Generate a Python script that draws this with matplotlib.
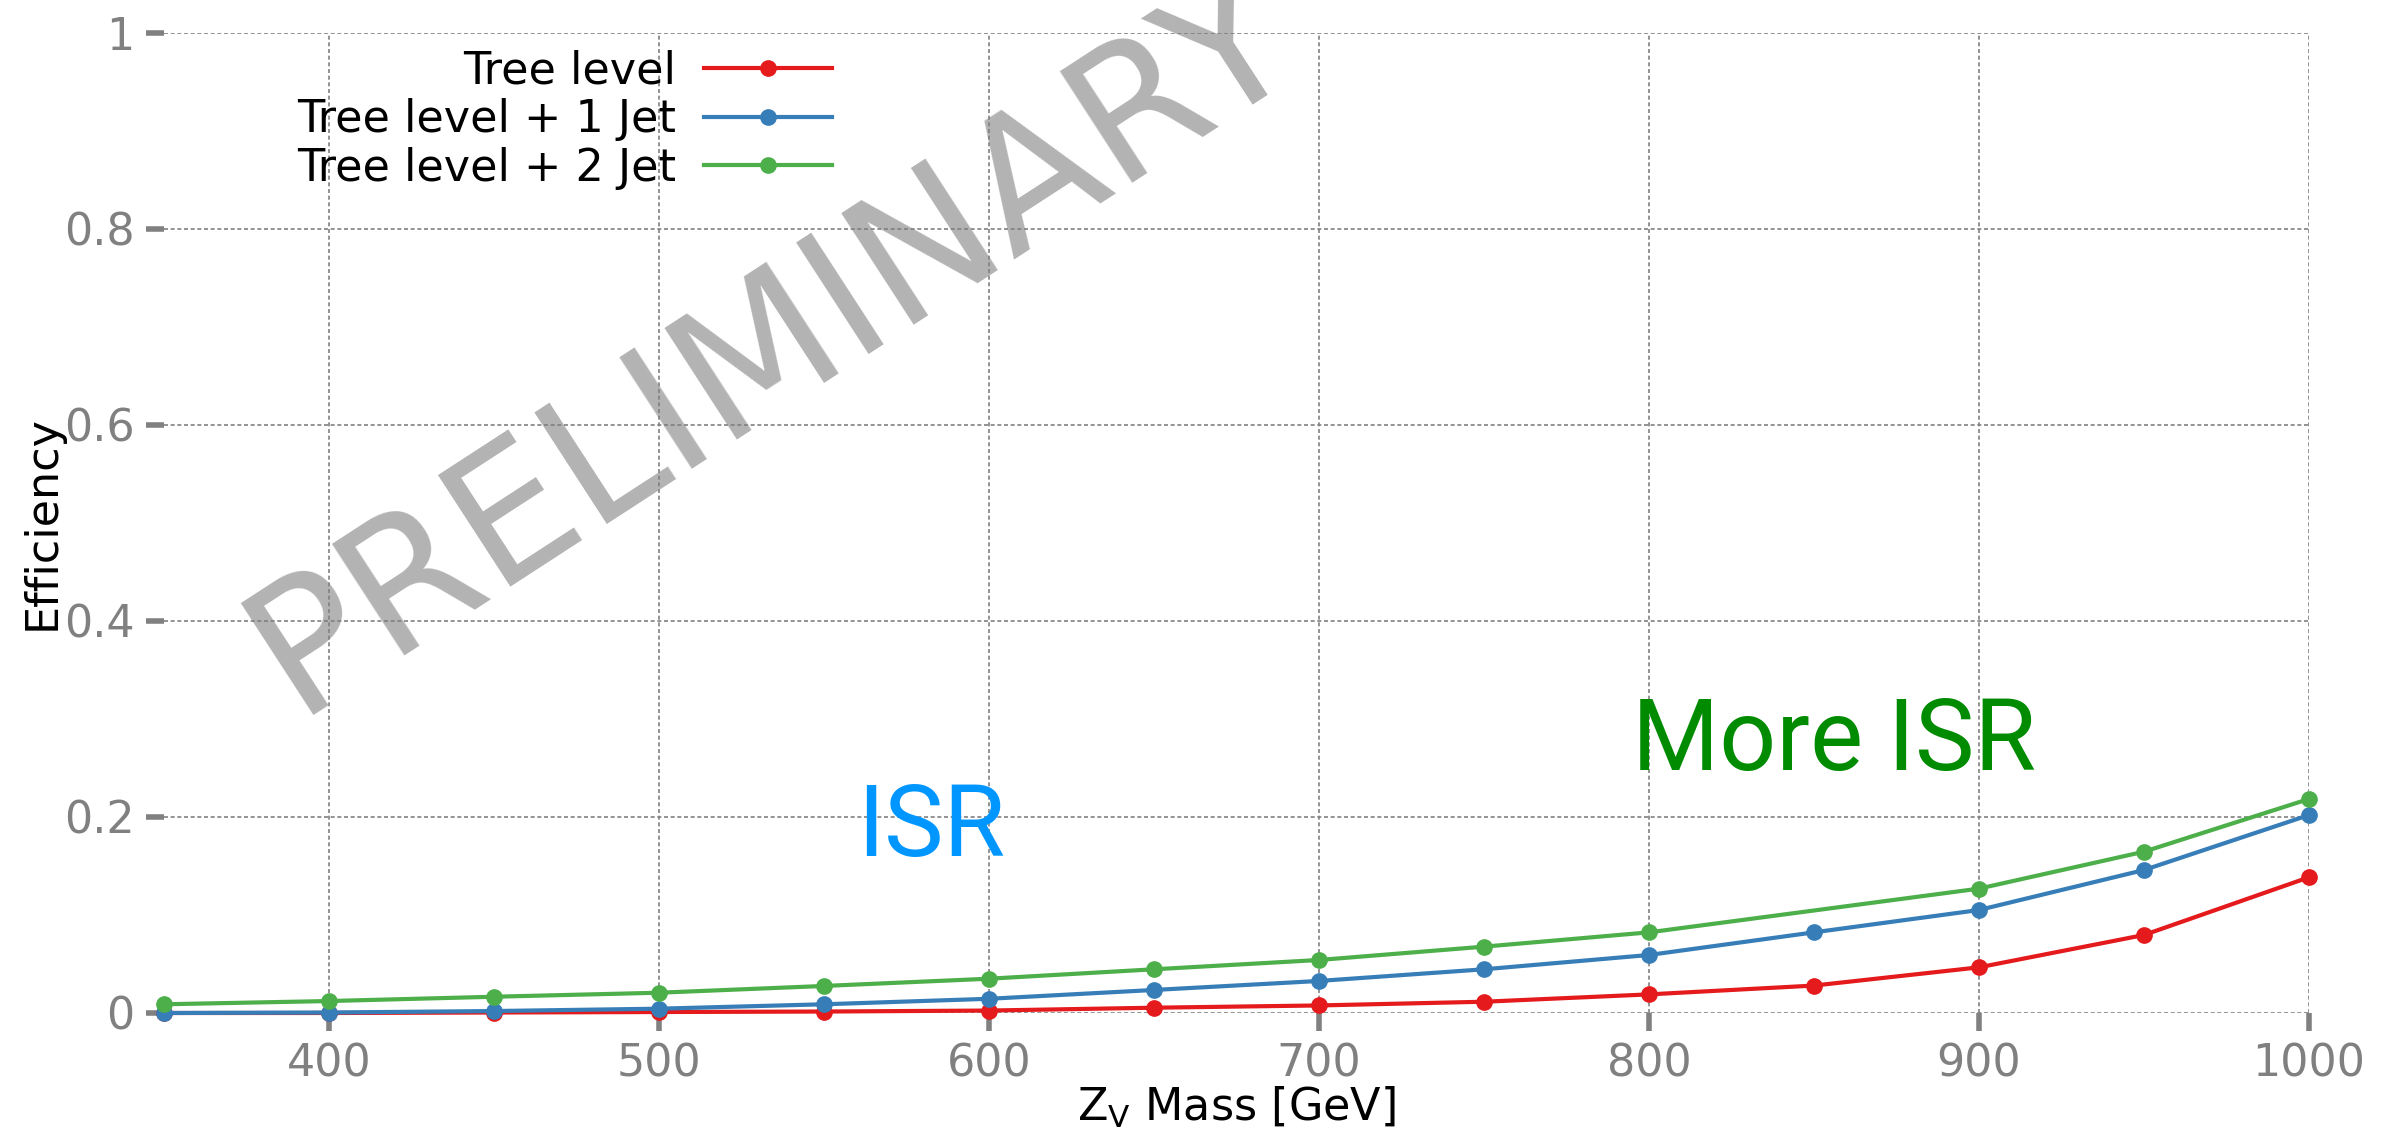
import matplotlib
matplotlib.use("Agg")
import matplotlib.pyplot as plt

plt.rcParams['font.family'] = ['DejaVu Sans']
plt.rcParams['mathtext.default'] = 'regular'

# ---- data ----
mass = [350, 400, 450, 500, 550, 600, 650, 700, 750, 800, 850, 900, 950, 1000]
eff_tree = [0.0, 0.0, 0.0005, 0.001, 0.0015, 0.0025, 0.0054, 0.0077, 0.0115,
            0.019, 0.028, 0.0466, 0.0796, 0.1385]
eff_1jet = [0.0, 0.0005, 0.002, 0.0044, 0.0089, 0.0145, 0.0235, 0.0327, 0.0446,
            0.0592, 0.0823, 0.1051, 0.1459, 0.202]
mass_2jet = [350, 400, 450, 500, 550, 600, 650, 700, 750, 800, 900, 950, 1000]
eff_2jet = [0.0089, 0.0122, 0.0166, 0.0207, 0.0276, 0.035, 0.0446, 0.0541, 0.0677,
            0.0823, 0.1269, 0.1646, 0.2184]
labels = ["Tree level", "Tree level + 1 Jet", "Tree level + 2 Jet"]
colors = ["#e41a1c", "#377eb8", "#4daf4a"]
xticks = [400, 500, 600, 700, 800, 900, 1000]
yticks = [0, 0.2, 0.4, 0.6, 0.8, 1.0]
ytick_labels = ["0", "0.2", "0.4", "0.6", "0.8", "1"]

W, H = 2386, 1128
fig = plt.figure(figsize=(W / 100, H / 100), dpi=100)
ax = fig.add_axes([164 / W, 1 - 1013 / H, (2309 - 164) / W, (1013 - 33) / H])
ax.patch.set_facecolor('none')

series = [(mass, eff_tree), (mass, eff_1jet), (mass_2jet, eff_2jet)]
for (xs, ys), lab, c in zip(series, labels, colors):
    ax.plot(xs, ys, '-o', color=c, lw=3, ms=11, label=lab, clip_on=False, zorder=3)

ax.set_xlim(350, 1000)
ax.set_ylim(0, 1)
ax.set_xticks(xticks)
ax.set_xticklabels([str(v) for v in xticks])
ax.set_yticks(yticks)
ax.set_yticklabels(ytick_labels)

for s in ax.spines.values():
    s.set_visible(False)

ax.tick_params(axis='both', direction='out', length=13, width=4, color='#808080',
               labelcolor='#808080', labelsize=32, pad=8)
ax.grid(True, color='#808080', lw=1.2, linestyle=(0, (2.4, 1.6)))

ax.set_xlabel("$Z_V$ Mass [GeV]", fontsize=32, labelpad=0)
ax.set_ylabel("Efficiency", fontsize=32, labelpad=0)

leg = ax.legend(loc='upper left', bbox_to_anchor=(279 / W, 1 - 32 / H),
                bbox_transform=fig.transFigure, frameon=False, fontsize=32,
                markerfirst=False, numpoints=1, handlelength=2.88,
                handletextpad=0.63, labelspacing=0.125, borderaxespad=0)

ax.text(560, 0.16, "ISR", color='#0096ff', fontsize=72, family='Roboto')
ax.text(795, 0.248, "More ISR", color='#008b00', fontsize=72, family='Roboto')

ax.text(295 / W, 1 - 715 / H, "PRELIMINARY", transform=fig.transFigure,
        rotation=33, rotation_mode='anchor', ha='left', va='baseline',
        fontsize=131, color='#b3b3b3', zorder=1, clip_on=False)

fig.savefig("out.png", dpi=100)
